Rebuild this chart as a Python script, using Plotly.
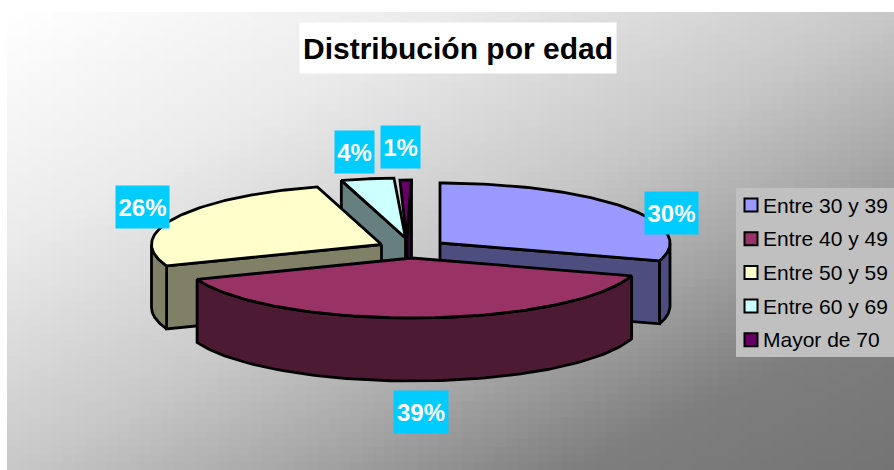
import numpy as np
import plotly.graph_objects as go

categories = ["Entre 30 y 39", "Entre 40 y 49", "Entre 50 y 59", "Entre 60 y 69", "Mayor de 70"]
values = [29.8, 39.4, 26.3, 3.7, 0.8]
title_text = "Distribución por edad"

top_colors = ["#9999FF", "#993366", "#FFFFCC", "#CCFFFF", "#660066"]
side_colors = ["#4D4D80", "#4D1A33", "#808066", "#668080", "#330033"]
# centre of every exploded slice on the page, and centre of its percentage label
apex = [(440, 243), (412, 258), (381.5, 244.5), (405.5, 238), (411.5, 240)]
label_pos = [(671.5, 213), (421, 412), (142.5, 207), (354.5, 152), (400.5, 147)]
label_w = [55, 56, 55, 41, 41]

W, H = 894, 470
RX, RY, DEPTH = 230, 60, 63
FONT = "Liberation Sans, Arial, sans-serif"
LW = 2.8
# grey level of the diagonal background along its length
ramp_pos = [0, 0.25, 0.5, 0.65, 0.82, 1]
ramp_grey = [255, 235, 200, 168, 126, 116]

fig = go.Figure()

# diagonal grey background (x and y are cell edges)
gx = np.linspace(7, W, 81)
gy = np.linspace(12, H, 61)
cx = (gx[:-1] + gx[1:]) / 2
cy = (gy[:-1] + gy[1:]) / 2
tx, ty = np.meshgrid((cx - 7) / (W - 7), (cy - 12) / (H - 12))
fig.add_trace(go.Heatmap(x=gx, y=gy, z=np.interp((tx + ty) / 2, ramp_pos, ramp_grey), zmin=0, zmax=255,
                         colorscale=[[0, "#000000"], [1, "#FFFFFF"]], showscale=False,
                         hoverinfo="skip"))

# slice angles from the values (clockwise from 12 o'clock)
total = sum(values)
edges = np.concatenate([[0], np.cumsum(values)]) / total * 2 * np.pi


def rim(i, a, b, n=90, drop=0):
    t = np.linspace(a, b, n)
    return apex[i][0] + RX * np.sin(t), apex[i][1] - RY * np.cos(t) + drop


def poly(x, y, color):
    fig.add_trace(go.Scatter(x=list(x) + [x[0]], y=list(y) + [y[0]], mode="lines", fill="toself",
                             fillcolor=color, line=dict(color="#000000", width=LW, shape="linear"),
                             hoverinfo="skip", showlegend=False))


def cut_face(i, ang, tip=None, depth=DEPTH):
    ax, ay = tip or apex[i]
    rx, ry = rim(i, ang, ang, 1)
    poly([ax, rx[0], rx[0], ax], [ay, ry[0], ry[0] + depth, ay + depth], side_colors[i])


def wall(i, a, b):
    a2, b2 = max(a, np.pi / 2), min(b, 3 * np.pi / 2)
    if a2 >= b2:
        return
    x1, y1 = rim(i, a2, b2)
    x2, y2 = rim(i, b2, a2, drop=DEPTH)
    poly(np.concatenate([x1, x2]), np.concatenate([y1, y2]), side_colors[i])


def top(i, tip=None):
    x, y = rim(i, edges[i], edges[i + 1])
    ax, ay = tip or apex[i]
    poly(np.concatenate([[ax], x]), np.concatenate([[ay], y]), top_colors[i])


# painter's order, back to front
cut_face(3, edges[3])
top(3)
# the thin last slice narrows towards the tip of its neighbour
thin_tip = (406.5, 238)
cut_face(4, edges[5], tip=thin_tip, depth=80)
top(4, tip=thin_tip)
cut_face(2, edges[2])
wall(2, edges[2], edges[3])
top(2)
cut_face(0, edges[1])
wall(0, edges[0], edges[1])
top(0)
wall(1, edges[1], edges[2])
top(1)

shapes = [dict(type="rect", x0=736, x1=894, y0=188, y1=357, fillcolor="#C0C0C0",
               line=dict(width=0), layer="above")]
annotations = [dict(x=458, y=48, text=f"<b>{title_text}</b>", showarrow=False, bgcolor="#FFFFFF",
                    width=314, height=48, font=dict(family=FONT, size=30, color="#000000"))]

for i, cat in enumerate(categories):
    yc = 205 + i * 33.7
    shapes.append(dict(type="rect", x0=744.5, x1=757.5, y0=yc - 6.5, y1=yc + 6.5, fillcolor=top_colors[i],
                       line=dict(color="#000000", width=2), layer="above"))
    annotations.append(dict(x=761, y=yc, text=cat, xanchor="left", showarrow=False,
                            font=dict(family=FONT, size=21, color="#000000")))
    pct = round(values[i] / total * 100)
    annotations.append(dict(x=label_pos[i][0], y=label_pos[i][1], text=f"<b>{pct}%</b>", showarrow=False,
                            bgcolor="#00CCFF", width=label_w[i] - 4, height=40,
                            font=dict(family=FONT, size=24, color="#FFFFFF")))

fig.update_layout(width=W, height=H, margin=dict(l=0, r=0, t=0, b=0), paper_bgcolor="#FFFFFF",
                  plot_bgcolor="rgba(0,0,0,0)", showlegend=False, shapes=shapes, annotations=annotations,
                  xaxis=dict(range=[0, W], visible=False, fixedrange=True),
                  yaxis=dict(range=[H, 0], visible=False, fixedrange=True))

fig.write_html("out.html", config=dict(displayModeBar=False),
               post_script="document.body.style.margin='0';document.body.style.overflow='hidden';")
